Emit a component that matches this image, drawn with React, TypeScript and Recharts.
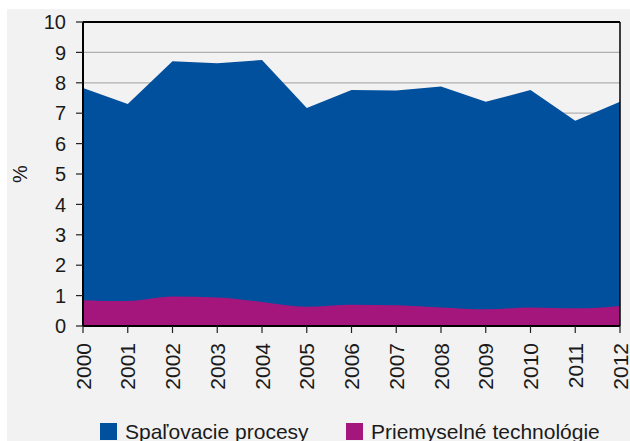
import React from 'react';
import { AreaChart, Area, XAxis, YAxis, CartesianGrid, ReferenceLine } from 'recharts';

const years = ['2000', '2001', '2002', '2003', '2004', '2005', '2006', '2007', '2008', '2009', '2010', '2011', '2012'];
const spalovacieProcesy = [6.98, 6.48, 7.74, 7.7, 7.96, 6.54, 7.06, 7.07, 7.27, 6.83, 7.15, 6.17, 6.72];
const priemyselneTechnologie = [0.85, 0.82, 0.97, 0.94, 0.79, 0.63, 0.7, 0.68, 0.61, 0.55, 0.61, 0.58, 0.66];
const yTicks = [0, 1, 2, 3, 4, 5, 6, 7, 8, 9, 10];

const seriesNames = ['Spaľovacie procesy', 'Priemyselné technológie'];
const BLUE = '#00509e';
const PURPLE = '#a4167c';
const FONT = '"Liberation Sans", Arial, Helvetica, sans-serif';
const TEXT = '#1a1a1a';

const data = years.map((y, i) => ({
  year: y,
  total: +(spalovacieProcesy[i] + priemyselneTechnologie[i]).toFixed(2),
  prim: priemyselneTechnologie[i],
}));

const XTick = (props: any) => {
  const { x, y, payload } = props;
  return (
    <g transform={`translate(${x},${y})`}>
      <text
        x={0}
        y={0}
        dy="0.36em"
        transform="rotate(-90)"
        textAnchor="end"
        fontSize={21}
        fontFamily={FONT}
        fill={TEXT}
      >
        {payload.value}
      </text>
    </g>
  );
};

const PercentLabel = (props: any) => {
  const { viewBox } = props;
  const cx = viewBox.x + 13;
  const cy = viewBox.y + viewBox.height / 2;
  return (
    <text
      x={cx}
      y={cy}
      transform={`rotate(-90, ${cx}, ${cy})`}
      textAnchor="middle"
      dominantBaseline="central"
      fontSize={20}
      fontFamily={FONT}
      fill={TEXT}
    >
      %
    </text>
  );
};

export default function App() {
  const legendItems = [
    { name: seriesNames[0], color: BLUE, left: 93 },
    { name: seriesNames[1], color: PURPLE, left: 339 },
  ];
  return (
    <>
      <style>{`html, body { margin: 0; padding: 0; overflow: hidden; }`}</style>
      <div style={{ position: 'relative', width: 630, height: 441, background: '#fff', overflow: 'hidden' }}>
        <div
          style={{
            position: 'absolute',
            left: 7,
            top: 9,
            width: 623,
            height: 432,
            background: '#f2f2f2',
            fontFamily: FONT,
          }}
        >
          <AreaChart
            width={623}
            height={400}
            data={data}
            margin={{ top: 13, right: 10, left: 0, bottom: 0 }}
            style={{ fontFamily: FONT, overflow: 'visible' }}
          >
            <CartesianGrid vertical={false} stroke="#b0b0b0" strokeWidth={1.2} />
            <XAxis
              dataKey="year"
              interval={0}
              height={83}
              tickSize={7}
              tickMargin={10}
              axisLine={{ stroke: '#000', strokeWidth: 2 }}
              tickLine={{ stroke: '#222', strokeWidth: 1.2 }}
              tick={<XTick />}
            />
            <YAxis
              domain={[0, 10]}
              ticks={yTicks}
              interval={0}
              width={76}
              tickSize={7}
              tickMargin={10}
              axisLine={{ stroke: '#000', strokeWidth: 2 }}
              tickLine={{ stroke: '#222', strokeWidth: 1.2 }}
              tick={{ fontSize: 20, fill: TEXT, fontFamily: FONT }}
              label={{ position: 'insideLeft', content: <PercentLabel /> }}
            />
            <Area
              type="linear"
              dataKey="total"
              name={seriesNames[0]}
              fill={BLUE}
              fillOpacity={1}
              stroke="none"
              isAnimationActive={false}
            />
            <Area
              type="monotone"
              dataKey="prim"
              name={seriesNames[1]}
              fill={PURPLE}
              fillOpacity={1}
              stroke="none"
              isAnimationActive={false}
            />
            <ReferenceLine y={10} stroke="#000" strokeWidth={2} />
            <ReferenceLine x="2012" stroke="#000" strokeWidth={1.5} />
          </AreaChart>
          {legendItems.map((it) => (
            <div
              key={it.name}
              style={{
                position: 'absolute',
                top: 411.5,
                left: it.left,
                display: 'flex',
                alignItems: 'flex-start',
                whiteSpace: 'nowrap',
              }}
            >
              <span
                style={{
                  display: 'inline-block',
                  width: 17,
                  height: 17,
                  marginTop: 2.5,
                  background: it.color,
                }}
              />
              <span style={{ marginLeft: 8, fontSize: 21, lineHeight: '21px', color: TEXT }}>{it.name}</span>
            </div>
          ))}
        </div>
      </div>
    </>
  );
}
